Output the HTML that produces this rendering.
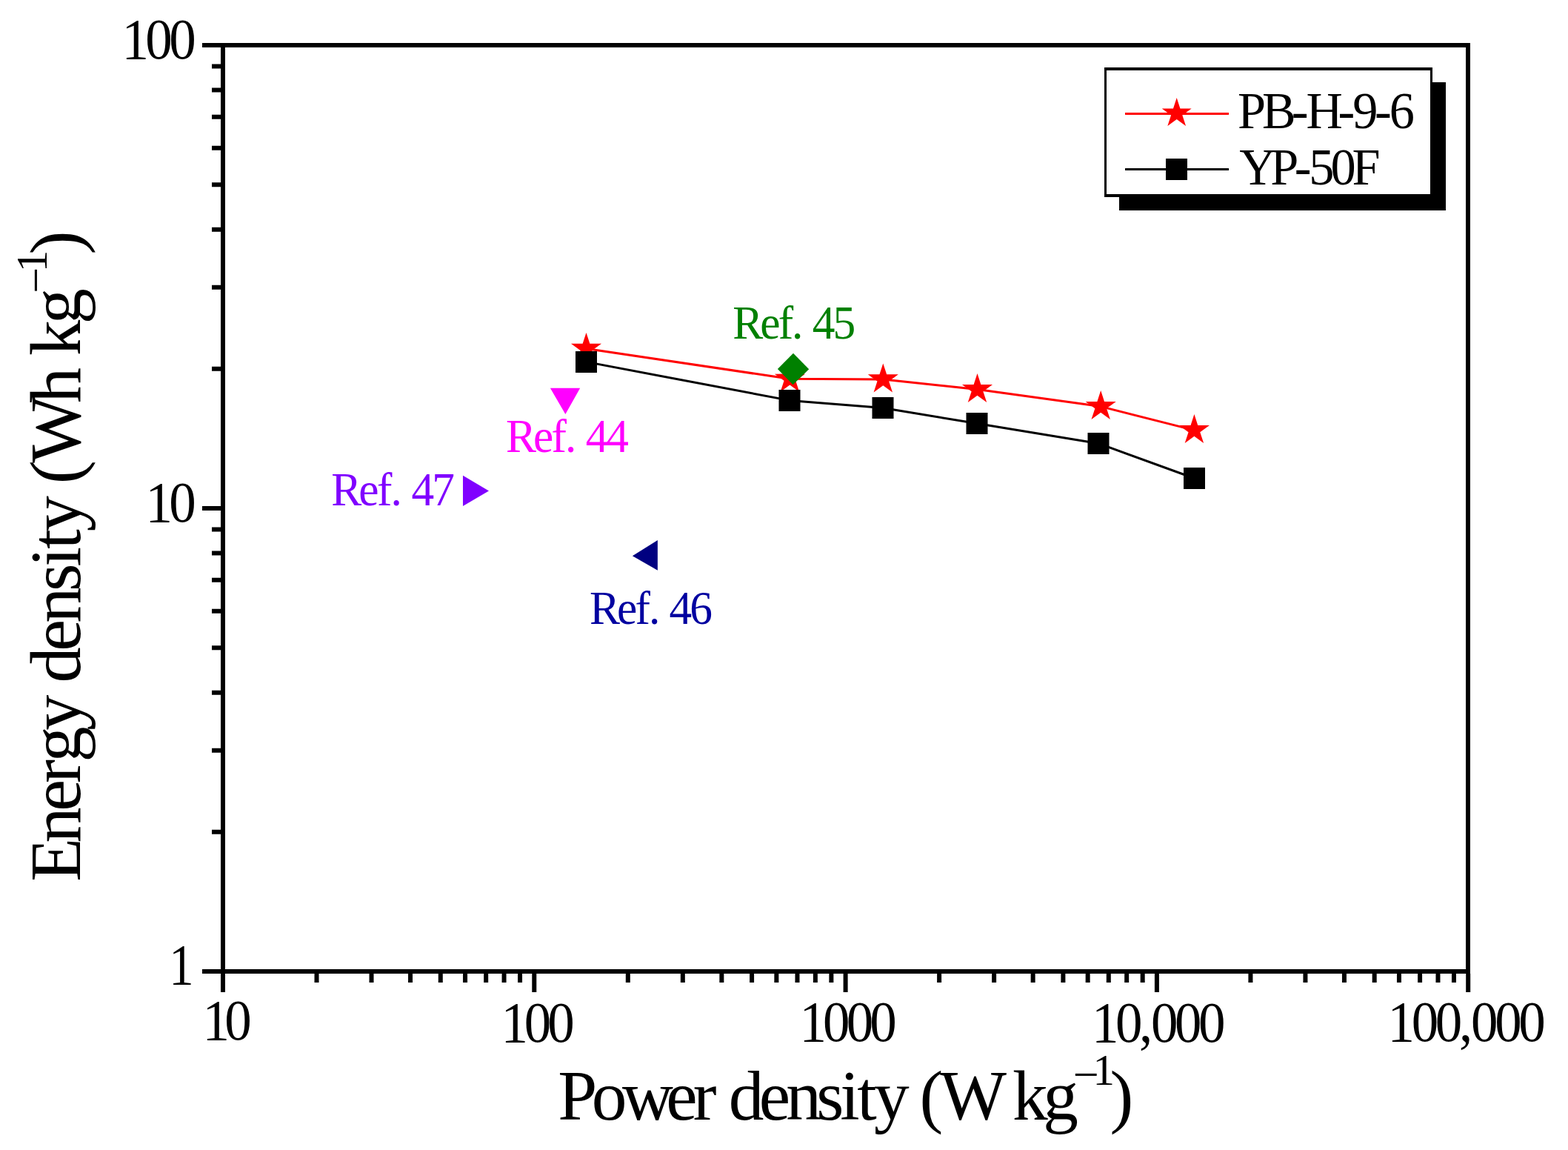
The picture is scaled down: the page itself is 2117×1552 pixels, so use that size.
<!DOCTYPE html>
<html><head><meta charset="utf-8"><title>Ragone plot</title>
<style>html,body{margin:0;padding:0;background:#fff;width:2117px;height:1552px;overflow:hidden}svg{display:block}text{font-family:"Liberation Serif","Times New Roman",serif}</style>
</head><body>
<svg width="2117" height="1552" viewBox="0 0 2117 1552">
<rect width="2117" height="1552" fill="#fff"/>
<rect x="301" y="61" width="1681" height="1250" fill="none" stroke="#000" stroke-width="6"/>
<path d="M286 1122.86H298 M286 1012.80H298 M286 934.71H298 M286 874.14H298 M286 824.66H298 M286 782.81H298 M286 746.57H298 M286 714.60H298 M286 497.86H298 M286 387.80H298 M286 309.71H298 M286 249.14H298 M286 199.66H298 M286 157.81H298 M286 121.57H298 M286 89.60H298 M273 1311.00H298 M273 686.00H298 M273 61.00H298 M427.52 1314V1326 M501.53 1314V1326 M554.05 1314V1326 M594.78 1314V1326 M628.06 1314V1326 M656.19 1314V1326 M680.57 1314V1326 M702.07 1314V1326 M847.82 1314V1326 M921.83 1314V1326 M974.35 1314V1326 M1015.08 1314V1326 M1048.36 1314V1326 M1076.49 1314V1326 M1100.87 1314V1326 M1122.37 1314V1326 M1268.12 1314V1326 M1342.13 1314V1326 M1394.65 1314V1326 M1435.38 1314V1326 M1468.66 1314V1326 M1496.79 1314V1326 M1521.17 1314V1326 M1542.67 1314V1326 M1688.42 1314V1326 M1762.43 1314V1326 M1814.95 1314V1326 M1855.68 1314V1326 M1888.96 1314V1326 M1917.09 1314V1326 M1941.47 1314V1326 M1962.97 1314V1326 M301.00 1314V1339 M721.30 1314V1339 M1141.60 1314V1339 M1561.90 1314V1339 M1982.20 1314V1339" stroke="#000" stroke-width="6" fill="none"/>
<text transform="translate(164.48,79) scale(0.93,1)" x="0.00 34.30 68.60" font-size="78.5" fill="#000">100</text>
<text transform="translate(196.38,704) scale(0.93,1)" x="0.00 34.30" font-size="78.5" fill="#000">10</text>
<text transform="translate(228.33,1328) scale(0.850,1)" font-size="78.5">1</text>
<text transform="translate(273.48,1403) scale(0.93,1)" x="0.00 32.04" font-size="78.5" fill="#000">10</text>
<text transform="translate(676.48,1405.9) scale(0.93,1)" x="0.00 33.71 67.42" font-size="78.5" fill="#000">100</text>
<text transform="translate(1079.38,1405.2) scale(0.93,1)" x="0.00 34.01 68.03 102.04" font-size="78.5" fill="#000">1000</text>
<text transform="translate(1473.98,1405.5) scale(0.93,1)" x="0.00 34.43 68.86 86.08 120.51 154.94" font-size="78.5" fill="#000">10,000</text>
<text transform="translate(1873.58,1405.2) scale(0.93,1)" x="0.00 34.54 69.09 103.63 120.91 155.45 190.00" font-size="78.5" fill="#000">100,000</text>
<text transform="translate(753.13,1510.7) scale(1.0,1)" font-size="95.4"><tspan x="0.00 45.71 86.80 146.15 182.63 210.00 230.54 271.63 308.11 349.20 381.18 404.02 426.85 467.94 488.49 515.86 593.43 613.97 655.06">Power density (W kg</tspan><tspan x="695.57" y="-40.18" font-size="62">−</tspan><tspan x="722.37" y="-46.7" font-size="59">1</tspan><tspan x="745.41" y="0">)</tspan></text>
<text transform="translate(108,1189.79) rotate(-90) scale(1.0,1)" font-size="96.3"><tspan x="0.00 52.23 94.97 132.92 161.39 204.14 246.89 268.27 311.01 348.96 391.71 424.98 448.74 472.49 515.24 536.61 565.08 645.78 688.53 709.90 752.65">Energy density (Wh kg</tspan><tspan x="793.99" y="-38.98" font-size="62">−</tspan><tspan x="822.60" y="-45" font-size="59">1</tspan><tspan x="846.31" y="0">)</tspan></text>
<polyline points="791.5,470.5 1066.4,511.3 1192.3,512.0 1319.5,525.6 1486.2,548.6 1612.4,580.6" fill="none" stroke="#f00" stroke-width="3" stroke-linejoin="round"/>
<path d="M791.50,448.90 L796.35,463.82 L812.04,463.83 L799.35,473.05 L804.20,487.97 L791.50,478.75 L778.80,487.97 L783.65,473.05 L770.96,463.83 L786.65,463.82Z M1066.40,489.70 L1071.25,504.62 L1086.94,504.63 L1074.25,513.85 L1079.10,528.77 L1066.40,519.55 L1053.70,528.77 L1058.55,513.85 L1045.86,504.63 L1061.55,504.62Z M1192.30,490.40 L1197.15,505.32 L1212.84,505.33 L1200.15,514.55 L1205.00,529.47 L1192.30,520.25 L1179.60,529.47 L1184.45,514.55 L1171.76,505.33 L1187.45,505.32Z M1319.50,504.00 L1324.35,518.92 L1340.04,518.93 L1327.35,528.15 L1332.20,543.07 L1319.50,533.85 L1306.80,543.07 L1311.65,528.15 L1298.96,518.93 L1314.65,518.92Z M1486.20,527.00 L1491.05,541.92 L1506.74,541.93 L1494.05,551.15 L1498.90,566.07 L1486.20,556.85 L1473.50,566.07 L1478.35,551.15 L1465.66,541.93 L1481.35,541.92Z M1612.40,559.00 L1617.25,573.92 L1632.94,573.93 L1620.25,583.15 L1625.10,598.07 L1612.40,588.85 L1599.70,598.07 L1604.55,583.15 L1591.86,573.93 L1607.55,573.92Z" fill="#f00"/>
<polyline points="791.5,488.4 1066.0,540.4 1192.0,550.5 1319.0,571.5 1483.0,598.4 1612.5,645.5" fill="none" stroke="#000" stroke-width="3" stroke-linejoin="round"/>
<path d="M777.00 473.90h29v29h-29Z M1051.50 525.90h29v29h-29Z M1177.50 536.00h29v29h-29Z M1304.50 557.00h29v29h-29Z M1468.50 583.90h29v29h-29Z M1598.00 631.00h29v29h-29Z" fill="#000"/>
<path d="M742.9 523.8H783.2L763.4 559.1Z" fill="#f0f"/>
<path d="M1071 476.8L1092.2 498.2L1070.6 519.2L1049.9 498.0Z" fill="#008000"/>
<path d="M887.9 729V769.8L853.9 750.2Z" fill="#000080"/>
<path d="M625 641.7V683L660 662.4Z" fill="#8000ff"/>
<text transform="translate(989.22,456.8) scale(0.96,1)" x="0.00 38.45 64.04 83.24 97.65 112.07 140.89" font-size="64" fill="#008000">Ref. 45</text>
<text transform="translate(683.12,609.8) scale(0.96,1)" x="0.00 38.45 64.04 83.23 97.65 112.06 140.88" font-size="64" fill="#f0f">Ref. 44</text>
<text transform="translate(447.22,681.9) scale(0.96,1)" x="0.00 38.68 64.41 83.73 98.22 112.72 141.71" font-size="64" fill="#8000ff">Ref. 47</text>
<text transform="translate(796.12,841.8) scale(0.96,1)" x="0.00 38.41 63.97 83.15 97.54 111.94 140.73" font-size="64" fill="#0000a0">Ref. 46</text>
<rect x="1511" y="111" width="441" height="173" fill="#000"/>
<rect x="1491" y="91" width="443" height="175" fill="#fff"/>
<path d="M1491 91h443v4h-443Z M1491 262h443v4h-443Z M1491 91h3v175h-3Z M1931 91h3v175h-3Z" fill="#000"/>
<path d="M1519 153.5H1659" stroke="#f00" stroke-width="3"/>
<path d="M1588.70,132.00 L1593.42,146.51 L1608.67,146.51 L1596.33,155.48 L1601.04,169.99 L1588.70,161.02 L1576.36,169.99 L1581.07,155.48 L1568.73,146.51 L1583.98,146.51Z" fill="#f00"/>
<path d="M1519 228.5H1659" stroke="#000" stroke-width="3"/>
<rect x="1574" y="214" width="29" height="29" fill="#000"/>
<text transform="translate(1670.92,172.7) scale(0.97,1)" x="0.00 34.10 74.99 95.41 139.69 160.10 190.76 211.18" font-size="70.5" fill="#000">PB-H-9-6</text>
<text transform="translate(1673.25,248.9) scale(0.97,1)" x="0.00 43.42 76.86 96.88 126.94 157.00" font-size="70.5" fill="#000">YP-50F</text>
</svg>
</body></html>
